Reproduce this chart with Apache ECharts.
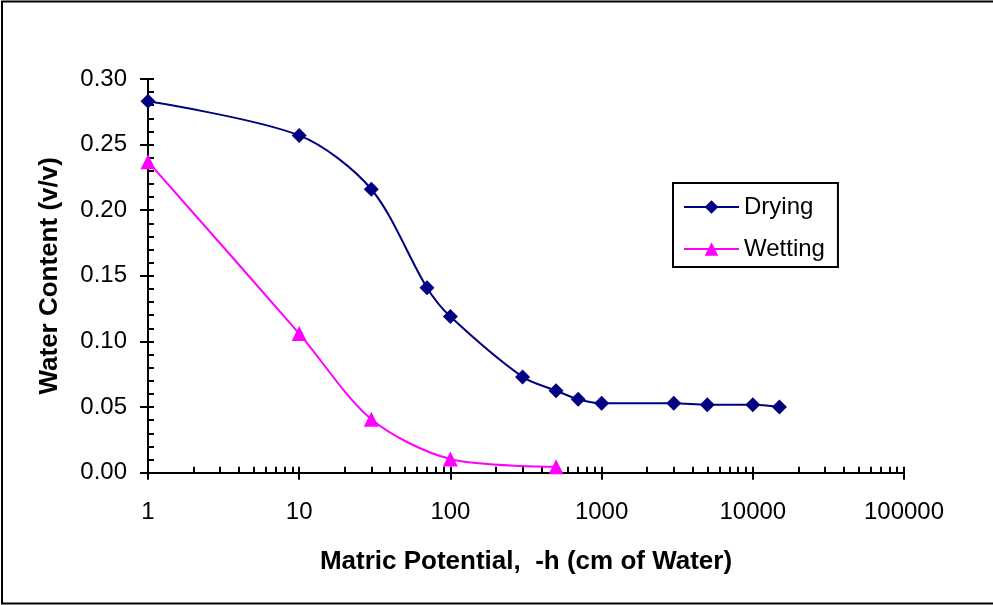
<!DOCTYPE html>
<html>
<head>
<meta charset="utf-8">
<script src="https://cdn.jsdelivr.net/npm/echarts@6/dist/echarts.min.js"></script>
<style>
html,body{margin:0;padding:0;background:#fff;}
#chart{width:993px;height:605px;}
</style>
</head>
<body>
<div id="chart"></div>
<script>
// Data
const dryingH = [1, 10, 30, 70, 100, 300, 500, 700, 1000, 3000, 5000, 10000, 15000];
const dryingTheta = [0.283, 0.257, 0.216, 0.141, 0.119, 0.073, 0.0625, 0.056, 0.053, 0.053, 0.0518, 0.0518, 0.050];
const wettingH = [1, 10, 30, 100, 500];
const wettingTheta = [0.237, 0.106, 0.0407, 0.0104, 0.0046];
const xDecades = [1, 10, 100, 1000, 10000, 100000];
const yTicks = [0, 0.05, 0.10, 0.15, 0.20, 0.25, 0.30];

const minorX = [];
for (let d = 0; d < xDecades.length - 1; d++) {
  for (let k = 1; k <= 9; k++) minorX.push(xDecades[d] * k);
}
minorX.push(xDecades[xDecades.length - 1]);

const font = 'Liberation Sans, Arial, sans-serif';
const chart = echarts.init(document.getElementById('chart'), null, {renderer: 'canvas'});

const option = {
  backgroundColor: '#fff',
  animation: false,
  grid: {left: 148, right: 89, top: 79, bottom: 132.3, containLabel: false},
  legend: {
    orient: 'vertical',
    left: 673,
    top: 183,
    padding: [12, 13, 6, 10],
    itemGap: 18,
    itemWidth: 55,
    itemHeight: 17,
    borderColor: '#000',
    borderWidth: 2,
    backgroundColor: '#fff',
    textStyle: {fontFamily: font, fontSize: 24, color: '#000'},
    data: ['Drying', 'Wetting']
  },
  xAxis: [
    {
      type: 'log',
      logBase: 10,
      min: xDecades[0],
      max: xDecades[xDecades.length - 1],
      name: 'Matric Potential,  -h (cm of Water)',
      nameLocation: 'middle',
      nameGap: 76,
      nameTextStyle: {fontFamily: font, fontSize: 26, fontWeight: 'bold', color: '#000'},
      axisLine: {show: true, onZero: false, lineStyle: {color: '#000', width: 2}},
      axisTick: {show: true, inside: false, length: 7, lineStyle: {color: '#000', width: 2}},
      axisLabel: {fontFamily: font, fontSize: 24, color: '#000', margin: 28,
        formatter: v => String(Math.round(v))},
      splitLine: {show: false},
      minorTick: {show: false}
    },
    {
      type: 'log',
      logBase: 10,
      min: xDecades[0],
      max: xDecades[xDecades.length - 1],
      position: 'bottom',
      axisLine: {show: false, onZero: false},
      axisTick: {show: true, inside: true, length: 6, customValues: minorX, lineStyle: {color: '#000', width: 2}},
      axisLabel: {show: false},
      splitLine: {show: false}
    }
  ],
  yAxis: [
    {
      type: 'value',
      min: 0,
      max: 0.3,
      interval: 0.05,
      name: 'Water Content (v/v)',
      nameLocation: 'middle',
      nameGap: 85,
      nameRotate: 90,
      nameTextStyle: {fontFamily: font, fontSize: 26, fontWeight: 'bold', color: '#000'},
      axisLine: {show: true, onZero: false, lineStyle: {color: '#000', width: 2}},
      axisTick: {show: true, inside: false, length: 8, lineStyle: {color: '#000', width: 2}},
      axisLabel: {fontFamily: font, fontSize: 24, color: '#000', margin: 21,
        formatter: v => v.toFixed(2)},
      splitLine: {show: false}
    },
    {
      type: 'value',
      min: 0,
      max: 0.3,
      interval: 0.01,
      position: 'left',
      axisLine: {show: false, onZero: false},
      axisTick: {show: true, inside: true, length: 6, lineStyle: {color: '#000', width: 2}},
      axisLabel: {show: false},
      splitLine: {show: false}
    }
  ],
  series: [
    {
      name: 'Drying',
      type: 'line',
      xAxisIndex: 0,
      yAxisIndex: 0,
      data: dryingH.map((h, i) => [h, dryingTheta[i]]),
      smooth: 0.3,
      symbol: 'diamond',
      symbolSize: 15,
      itemStyle: {color: '#000080'},
      lineStyle: {color: '#000080', width: 2}
    },
    {
      name: 'Wetting',
      type: 'line',
      xAxisIndex: 0,
      yAxisIndex: 0,
      data: wettingH.map((h, i) => [h, wettingTheta[i]]),
      smooth: 0.3,
      symbol: 'triangle',
      symbolSize: 15,
      itemStyle: {color: '#FF00FF'},
      lineStyle: {color: '#FF00FF', width: 2}
    }
  ],
  graphic: [
    {
      type: 'rect',
      silent: true,
      z: 100,
      shape: {x: 2, y: 1.5, width: 1100, height: 602},
      style: {fill: 'none', stroke: '#000', lineWidth: 2}
    }
  ]
};
chart.setOption(option);
</script>
</body>
</html>
